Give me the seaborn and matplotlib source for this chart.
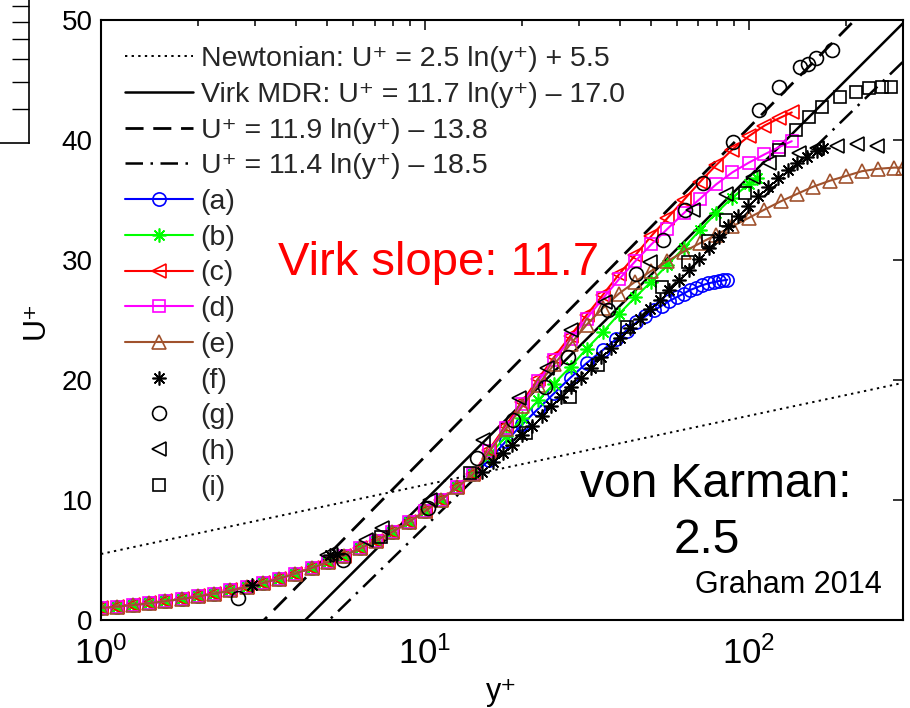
import numpy as np
import matplotlib
matplotlib.use("Agg")
import matplotlib.pyplot as plt
import seaborn as sns

# ---------------- data ----------------
# reference laws: U+ = slope * ln(y+) + intercept
law_labels = ["Newtonian: U\u207a = 2.5 ln(y\u207a) + 5.5",
              "Virk MDR: U\u207a = 11.7 ln(y\u207a) \u2013 17.0",
              "U\u207a = 11.9 ln(y\u207a) \u2013 13.8",
              "U\u207a = 11.4 ln(y\u207a) \u2013 18.5"]
law_slope = [2.5, 11.7, 11.9, 11.4]
law_icpt = [5.5, -17.0, -13.8, -18.5]
law_xrange = [1.0, 300.0]

# near-wall part shared by the DNS profiles (a)-(e)
x_low = [1.0, 1.12, 1.26, 1.41, 1.58, 1.78, 2.0, 2.24, 2.51, 2.82, 3.16, 3.55,
         3.98, 4.47, 5.01, 5.62, 6.31, 7.08, 7.94, 8.91, 10.0, 11.2, 12.6, 14.1]
u_low = [1.0, 1.12, 1.25, 1.40, 1.57, 1.76, 1.97, 2.2, 2.46, 2.75, 3.08, 3.45,
         3.87, 4.33, 4.82, 5.36, 5.96, 6.62, 7.35, 8.15, 9.05, 10.0, 11.05, 12.15]

x_a = [15.8, 17.8, 20.0, 22.4, 25.1, 28.2, 31.6, 35.5, 39.0, 42, 45, 48, 51, 54,
       57, 60, 63, 66, 69, 72, 75, 78, 81, 83.5, 86]
u_a = [13.3, 14.9, 16.3, 17.6, 18.9, 20.2, 21.4, 22.5, 23.4, 24.1, 24.8, 25.3,
       25.8, 26.2, 26.6, 26.9, 27.2, 27.5, 27.7, 27.9, 28.05, 28.15, 28.25, 28.3, 28.35]

x_b = [15.8, 17.8, 20.0, 22.4, 25.1, 28.2, 31.6, 35.5, 39.8, 44.7, 50.1, 56.2,
       63.1, 70.8, 79.4, 89.1, 100, 106]
u_b = [13.7, 15.3, 16.8, 18.3, 19.7, 21.1, 22.6, 24.0, 25.5, 26.9, 28.2, 29.6,
       31.0, 32.5, 33.9, 35.2, 36.3, 36.8]

x_c = [15.8, 17.8, 20.0, 22.4, 25.1, 28.2, 31.6, 35.5, 39.8, 44.7, 50.1, 56.2,
       63.1, 70.8, 79.4, 89.1, 100, 112, 124, 136]
u_c = [14.2, 16.2, 18.2, 20.1, 21.9, 23.7, 25.4, 27.1, 28.8, 30.4, 32.0, 33.5,
       35.0, 36.5, 37.9, 39.2, 40.3, 41.2, 41.8, 42.3]

x_d = [15.8, 17.8, 20.0, 22.4, 25.1, 28.2, 31.6, 35.5, 39.8, 44.7, 50.1, 56.2,
       63.1, 70.8, 79.4, 89.1, 100, 112, 124, 136]
u_d = [14.1, 16.0, 18.0, 19.9, 21.7, 23.4, 25.1, 26.8, 28.4, 29.9, 31.3, 32.6,
       33.9, 35.1, 36.3, 37.3, 38.1, 38.8, 39.4, 39.9]

x_e = [15.8, 17.8, 20.0, 22.4, 25.1, 28.2, 31.6, 35.5, 39.8, 44.7, 50.1, 56.2,
       63.1, 70.8, 79.4, 89.1, 100, 112, 126, 141, 158, 178, 200, 224, 251, 282, 300]
u_e = [14.0, 15.9, 17.8, 19.6, 21.3, 23.0, 24.6, 26.0, 27.2, 28.2, 29.1, 29.9,
       30.7, 31.4, 32.1, 32.8, 33.5, 34.2, 34.9, 35.5, 36.1, 36.6, 37.0, 37.4,
       37.6, 37.7, 37.7]

x_f = [2.93, 5.1, 5.35, 15.0, 16.2, 17.4, 18.6, 20.0, 21.4, 23.0, 24.6, 26.4,
       28.3, 30.4, 32.6, 35.0, 37.5, 40.2, 43.1, 46.2, 49.6, 53.2, 57.0, 61.1,
       65.6, 70.3, 75.4, 80.9, 86.7, 93.0, 99.7, 107, 115, 123, 132, 141, 152, 163, 170]
u_f = [2.9, 5.4, 5.5, 12.3, 13.2, 13.9, 14.6, 15.4, 16.2, 17.0, 17.8, 18.6,
       19.4, 20.2, 21.0, 21.9, 22.7, 23.5, 24.3, 25.1, 25.9, 26.7, 27.5, 28.3,
       29.2, 30.1, 31.0, 31.9, 32.8, 33.7, 34.5, 35.3, 36.1, 36.8, 37.5, 38.1,
       38.6, 39.1, 39.3]

x_g = [2.65, 5.6, 10.2, 14.5, 18.7, 23.5, 27.6, 36.7, 45, 54.3, 63.5, 72.1,
       89.3, 108, 124.6, 143.7, 153, 162, 181.6]
u_g = [1.8, 5.0, 9.3, 13.5, 16.7, 19.4, 21.9, 25.8, 28.8, 31.7, 34.2, 36.4,
       39.8, 42.5, 44.4, 46.1, 46.3, 46.8, 47.5]

x_h = [4.98, 6.6, 7.4, 10.4, 15.1, 19.6, 23.8, 28.3, 36.0, 49.5, 67.2, 85, 103,
       116, 143, 163, 188, 216, 250]
u_h = [5.4, 6.7, 7.7, 10.0, 15.0, 18.5, 21.0, 24.2, 26.5, 29.8, 34.2, 35.5, 36.9,
       38.1, 38.9, 39.3, 39.5, 39.7, 39.5]

x_i = [7.3, 13.8, 20.6, 28.0, 34.2, 42.0, 54.0, 65.0, 75.0, 85.5, 97.2, 124.6,
       140.6, 154, 169, 191, 215, 236, 259, 276]
u_i = [6.9, 12.25, 15.6, 18.6, 21.25, 24.4, 27.75, 29.8, 31.6, 33.3, 35.6, 39.2,
       40.8, 41.9, 42.75, 43.6, 44.0, 44.3, 44.4, 44.4]

series_labels = ["(a)", "(b)", "(c)", "(d)", "(e)", "(f)", "(g)", "(h)", "(i)"]

# ---------------- style ----------------
sns.set_theme(style="white")
plt.rcParams["font.family"] = ["Liberation Sans", "DejaVu Sans"]
plt.rcParams["mathtext.fontset"] = "custom"
plt.rcParams["mathtext.rm"] = "Liberation Sans"
plt.rcParams["mathtext.it"] = "Liberation Sans:italic"
plt.rcParams["mathtext.bf"] = "Liberation Sans:bold"
plt.rcParams["mathtext.default"] = "regular"
plt.rcParams["legend.numpoints"] = 1

fig = plt.figure(figsize=(9.1, 7.08), dpi=100)
ax = fig.add_axes([101 / 910, 1 - 620 / 708, 802 / 910, 600 / 708])

law_styles = [dict(linestyle=(0, (1.2, 2.2)), linewidth=1.4),
              dict(linestyle="-", linewidth=1.8),
              dict(linestyle=(0, (6.5, 3.5)), linewidth=2.0),
              dict(linestyle=(0, (7, 3, 1, 3)), linewidth=1.8)]
for s, c, lab, st in zip(law_slope, law_icpt, law_labels, law_styles):
    xs = np.array(law_xrange)
    ys = s * np.log(xs) + c
    sns.lineplot(x=xs, y=ys, ax=ax, color="black", label=lab,
                 estimator=None, sort=False, **st)

colors = ["#0000FF", "#00FF00", "#FF0000", "#FF00FF", "#A0522D"]
markers = ["o", (8, 2, 0), "<", "s", "^"]
msizes = [9.5, 10, 9.5, 8, 9.5]
dns_x = [x_a, x_b, x_c, x_d, x_e]
dns_u = [u_a, u_b, u_c, u_d, u_e]
for xx, uu, col, mk, ms, lab in zip(dns_x, dns_u, colors, markers, msizes, series_labels[:5]):
    sns.lineplot(x=x_low + xx, y=u_low + uu, ax=ax, color=col, label=lab,
                 estimator=None, sort=False, linewidth=1.5, marker=mk,
                 markersize=ms, markerfacecolor="none", markeredgecolor=col,
                 markeredgewidth=1.2)

exp_x = [x_f, x_g, x_h, x_i]
exp_u = [u_f, u_g, u_h, u_i]
exp_markers = [(8, 2, 0), "o", "<", "s"]
exp_ms = [10, 10, 10, 8.5]
for xx, uu, mk, ms, lab in zip(exp_x, exp_u, exp_markers, exp_ms, series_labels[5:]):
    sns.lineplot(x=xx, y=uu, ax=ax, color="black", label=lab, estimator=None,
                 sort=False, linestyle="none", marker=mk, markersize=ms,
                 markerfacecolor="none", markeredgecolor="black",
                 markeredgewidth=1.2)

ax.set_xscale("log")
ax.set_xlim(1, 300)
ax.set_ylim(0, 50)
ax.set_yticks([0, 10, 20, 30, 40, 50])
for sp in ax.spines.values():
    sp.set_color("black")
    sp.set_linewidth(1.5)
ax.tick_params(which="both", direction="in", top=True, right=True,
               colors="black", width=1.1)
ax.tick_params(axis="y", which="major", labelsize=20, length=7, pad=6)
ax.tick_params(axis="x", which="major", labelsize=25, length=7, pad=12)
ax.tick_params(which="minor", length=4)
ax.set_xlabel("y\u207a", fontsize=22, labelpad=4, color="black")
ax.set_ylabel("U\u207a", fontsize=22, labelpad=8, color="black")

handles, labels = ax.get_legend_handles_labels()
ax.legend(handles, labels, loc="upper left", bbox_to_anchor=(0.03, 0.956),
          frameon=False, fontsize=20.5, handlelength=2.4, handletextpad=0.25,
          labelspacing=0.34, borderpad=0, borderaxespad=0)

ax.text(0.221, 0.575, "Virk slope: 11.7", transform=ax.transAxes,
        color="#FF0000", fontsize=34, va="baseline", ha="left")
ax.text(0.597, 0.205, "von Karman:", transform=ax.transAxes,
        color="black", fontsize=34.5, va="baseline", ha="left")
ax.text(0.755, 0.112, "2.5", transform=ax.transAxes,
        color="black", fontsize=34.5, va="baseline", ha="center")
ax.text(0.741, 0.045, "Graham 2014", transform=ax.transAxes,
        color="black", fontsize=22, va="baseline", ha="left")

# fragment of a neighbouring figure at the top-left corner
ax2 = fig.add_axes([0, 1 - 143 / 708, 29 / 910, 143 / 708])
ax2.set_facecolor("none")
ax2.set_xlim(0, 1)
ax2.set_ylim(143, 0)
for k in ["left", "top"]:
    ax2.spines[k].set_visible(False)
for k in ["right", "bottom"]:
    ax2.spines[k].set_color("black")
    ax2.spines[k].set_linewidth(1.2)
ax2.set_xticks([])
ax2.yaxis.tick_right()
ax2.set_yticks([6, 22, 39, 59, 82, 109])
ax2.set_yticklabels([])
ax2.tick_params(axis="y", direction="in", length=12, width=1.0, colors="black")

fig.savefig("out.png", dpi=100)
